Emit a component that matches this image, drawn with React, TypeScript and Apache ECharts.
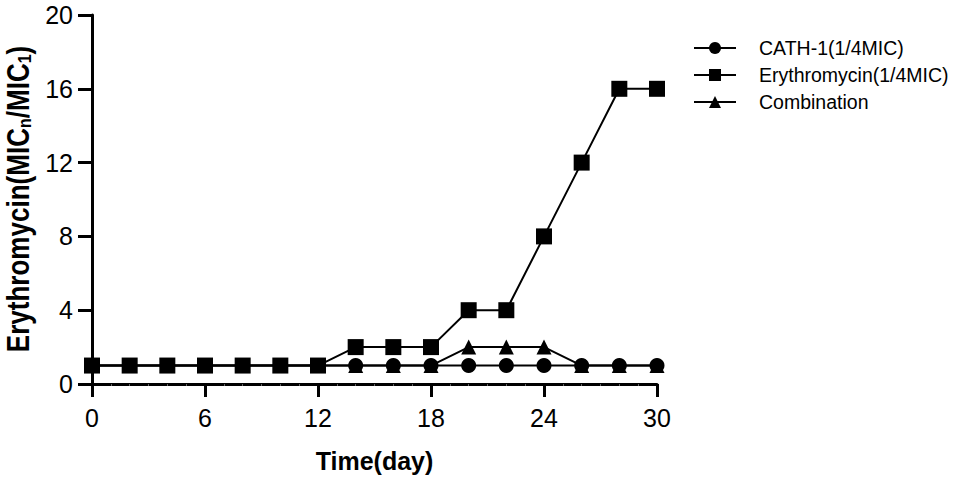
import React, { useEffect, useRef } from "react";
import * as echarts from "echarts";

const days = [0, 2, 4, 6, 8, 10, 12, 14, 16, 18, 20, 22, 24, 26, 28, 30];
const cathValues = [1, 1, 1, 1, 1, 1, 1, 1, 1, 1, 1, 1, 1, 1, 1, 1];
const erythroValues = [1, 1, 1, 1, 1, 1, 1, 2, 2, 2, 4, 4, 8, 12, 16, 16];
const comboValues = [1, 1, 1, 1, 1, 1, 1, 1, 1, 1, 2, 2, 2, 1, 1, 1];
const seriesNames = ["CATH-1(1/4MIC)", "Erythromycin(1/4MIC)", "Combination"];
const xAxisTitle = "Time(day)";
const yAxisTitle = "Erythromycin(MIC{sub|n}/MIC{sub|1})";

const FONT = "Liberation Sans, Arial, sans-serif";

export default function App() {
  const ref = useRef<HTMLDivElement>(null);
  useEffect(() => {
    if (!ref.current) return;
    const chart = echarts.init(ref.current, undefined, { renderer: "svg" });
    const pair = (vals: number[]) => days.map((d, i) => [d, vals[i]]);
    const mk = (name: string, vals: number[], symbol: string, size: number) => ({
      name,
      type: "line",
      data: pair(vals),
      symbol,
      symbolSize: size,
      itemStyle: { color: "#000" },
      lineStyle: { color: "#000", width: 2 },
      z: 3,
    });
    chart.setOption({
      animation: false,
      backgroundColor: "#fff",
      textStyle: { fontFamily: FONT },
      grid: { left: 92, right: 300, top: 15, bottom: 97, containLabel: false, outerBoundsMode: "none" },
      graphic: [
        {
          type: "text",
          x: 18,
          y: 199,
          rotation: Math.PI / 2,
          scaleX: 0.84,
          scaleY: 1,
          style: {
            text: yAxisTitle,
            fontFamily: FONT,
            fontSize: 31,
            lineHeight: 31,
            fontWeight: "bold",
            fill: "#000",
            align: "center",
            verticalAlign: "middle",
            rich: {
              sub: { fontFamily: FONT, fontSize: 19, lineHeight: 19, fontWeight: "bold", fill: "#000", verticalAlign: "bottom", padding: [10, 0, 0, 0] },
            },
          },
        },
      ],
      legend: {
        orient: "vertical",
        left: 688,
        top: 33,
        width: 265,
        itemWidth: 42,
        itemHeight: 15,
        itemGap: 7,
        data: seriesNames,
        textStyle: { fontFamily: FONT, fontSize: 19.5, color: "#000", padding: [0, 0, 0, 18] },
      },
      xAxis: {
        type: "value",
        min: 0,
        max: 30,
        interval: 6,
        name: xAxisTitle,
        nameLocation: "middle",
        nameGap: 64,
        nameTextStyle: { fontFamily: FONT, fontSize: 25, fontWeight: "bold", color: "#000" },
        axisLine: { show: true, onZero: false, lineStyle: { color: "#000", width: 3 } },
        axisTick: { show: true, length: 13, lineStyle: { color: "#000", width: 3 } },
        minorTick: { show: true, splitNumber: 6, length: 2, lineStyle: { color: "#666", width: 1 } },
        axisLabel: { fontFamily: FONT, fontSize: 25, color: "#000", margin: 21 },
        splitLine: { show: false },
      },
      yAxis: {
        type: "value",
        min: 0,
        max: 20,
        interval: 4,
        axisLine: { show: true, lineStyle: { color: "#000", width: 3 } },
        axisTick: { show: true, length: 14, lineStyle: { color: "#000", width: 3 } },
        axisLabel: { fontFamily: FONT, fontSize: 25, color: "#000", margin: 19 },
        splitLine: { show: false },
      },
      series: [
        mk(seriesNames[0], cathValues, "circle", 15),
        mk(seriesNames[1], erythroValues, "rect", 16),
        mk(seriesNames[2], comboValues, "triangle", 15),
      ],
    });
    return () => chart.dispose();
  }, []);
  return <div ref={ref} style={{ position: "absolute", left: 0, top: 0, width: 957, height: 481 }} />;
}
